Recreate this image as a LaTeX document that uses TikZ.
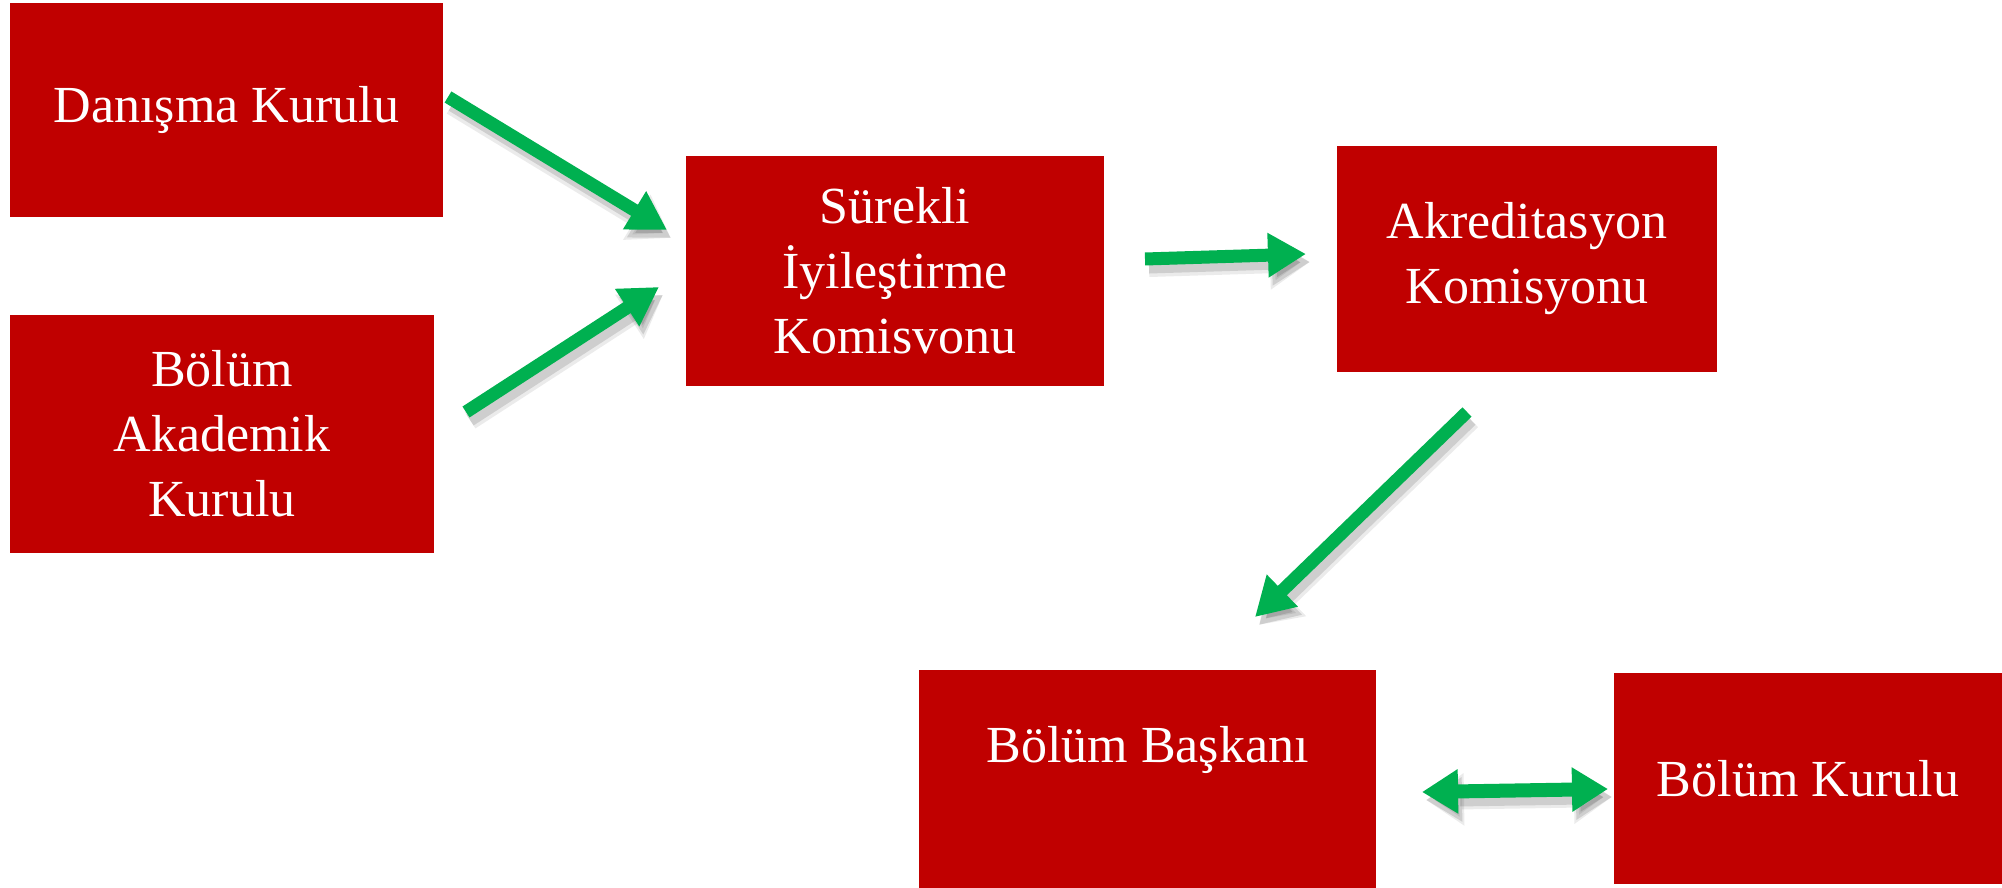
\documentclass[tikz,border=0pt]{standalone}
\usepackage{fontspec}
\setmainfont{Liberation Serif}
\usetikzlibrary{arrows.meta}
\definecolor{boxred}{HTML}{C00000}
\definecolor{arrgreen}{HTML}{00B050}
\begin{document}
\begin{tikzpicture}[x=0.01cm,y=-0.01cm,
  box/.style={fill=boxred, draw=none, text=white, align=center, inner sep=0pt,
    font=\fontsize{14.8}{18.5}\selectfont},
  boxtext/.style={text=white, align=center, inner sep=0pt, font=\fontsize{14.8}{18.5}\selectfont},
  flow/.style={draw=arrgreen, line width=0.13cm, -{Triangle[length=0.38cm,width=0.42cm]}},
  flowtwo/.style={draw=arrgreen, line width=0.14cm, {Triangle[length=0.36cm,width=0.42cm]}-{Triangle[length=0.36cm,width=0.42cm]}},
  flowshadow/.style={draw=black, opacity=0.08, line width=0.2cm, -{Triangle[length=0.4cm,width=0.5cm]},
    transform canvas={shift={(0.04cm,-0.08cm)}}},
  flowtwoshadow/.style={draw=black, opacity=0.08, line width=0.2cm, {Triangle[length=0.38cm,width=0.5cm]}-{Triangle[length=0.38cm,width=0.5cm]},
    transform canvas={shift={(0.04cm,-0.08cm)}}},
  flowshadowin/.style={draw=black, opacity=0.12, line width=0.13cm, -{Triangle[length=0.38cm,width=0.42cm]},
    transform canvas={shift={(0.04cm,-0.08cm)}}},
  flowtwoshadowin/.style={draw=black, opacity=0.12, line width=0.14cm, {Triangle[length=0.36cm,width=0.42cm]}-{Triangle[length=0.36cm,width=0.42cm]},
    transform canvas={shift={(0.04cm,-0.08cm)}}}]
\useasboundingbox (0,0) rectangle (2002,888);
\fill[white] (0,0) rectangle (2002,888);

\node[box, minimum width=4.33cm, minimum height=2.14cm] (b1) at (226.5,110) {Danışma Kurulu};
\node[box, minimum width=4.24cm, minimum height=2.38cm] (b2) at (222,434) {Bölüm\\Akademik\\Kurulu};
\node[box, minimum width=4.18cm, minimum height=2.30cm] (b3) at (895,271) {Sürekli\\İyileştirme\\Komisvonu};
\node[box, minimum width=3.80cm, minimum height=2.26cm] (b4) at (1527,259) {Akreditasyon\\Komisyonu};
\node[box, minimum width=4.57cm, minimum height=2.18cm] (b5) at (1147.5,779) {};
\node[boxtext] (b5t) at (1147.5,750) {Bölüm Başkanı};
\node[box, minimum width=3.88cm, minimum height=2.11cm] (b6) at (1808,778.5) {Bölüm Kurulu};

\coordinate (a1s) at (448,97);
\coordinate (a1e) at (667,230);
\coordinate (a2s) at (466,412);
\coordinate (a2e) at (659,287);
\coordinate (a3s) at (1145,259);
\coordinate (a3e) at (1306,254);
\coordinate (a4s) at (1467,412);
\coordinate (a4e) at (1255,617);
\coordinate (a5s) at (1422,792);
\coordinate (a5e) at (1608,789);

\foreach \s/\e in {a1s/a1e, a2s/a2e, a3s/a3e, a4s/a4e} {
  \draw[flowshadow] (\s) -- (\e);
  \draw[flowshadowin] (\s) -- (\e);
}
\draw[flowtwoshadow] (a5s) -- (a5e);
\draw[flowtwoshadowin] (a5s) -- (a5e);

\draw[flow] (a1s) -- (a1e);
\draw[flow] (a2s) -- (a2e);
\draw[flow] (a3s) -- (a3e);
\draw[flow] (a4s) -- (a4e);
\draw[flowtwo] (a5s) -- (a5e);
\end{tikzpicture}
\end{document}
